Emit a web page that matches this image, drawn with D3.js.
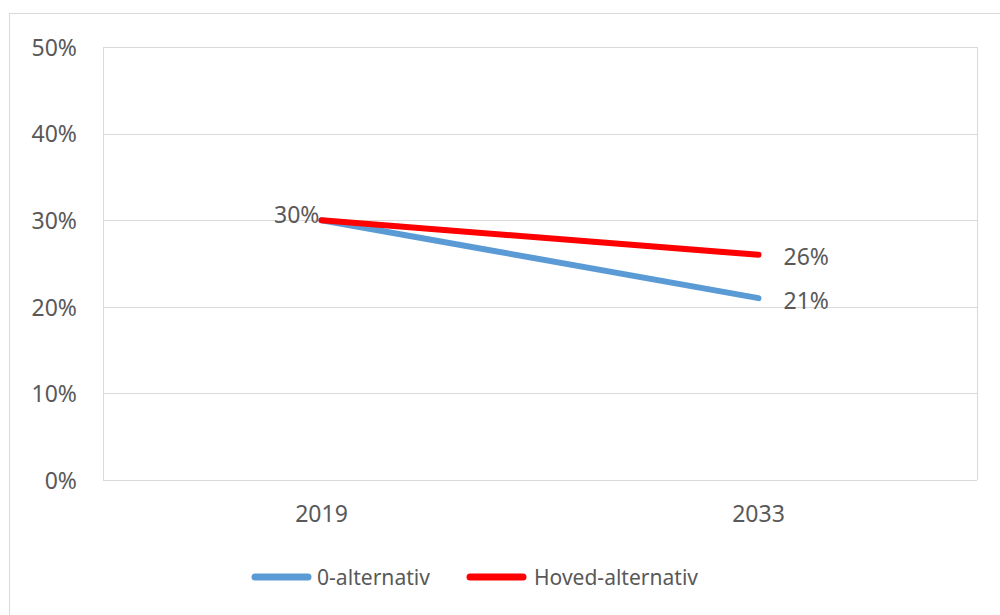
<!DOCTYPE html>
<html><head><meta charset="utf-8">
<script src="https://cdn.jsdelivr.net/npm/d3@7"></script>
<style>body{margin:0;background:#fff}svg{display:block}text{font-family:"Noto Sans","Open Sans",sans-serif;fill:#595959}</style>
</head><body>
<script>
const categories = ["2019", "2033"];
const seriesNames = ["0-alternativ", "Hoved-alternativ"];
const zeroAlt = [0.30, 0.21];
const hovedAlt = [0.30, 0.26];
const yTicks = [0, 0.1, 0.2, 0.3, 0.4, 0.5];
const colors = ["#5B9BD5", "#FF0000"];

(function () {
const W = 1000, H = 615;
const FS = "23px";
const svg = d3.select("body").append("svg").attr("width", W).attr("height", H);
svg.append("rect").attr("x", 9.5).attr("y", 13.5).attr("width", 1000).attr("height", 700)
  .attr("fill", "none").attr("stroke", "#d9d9d9");

const pl = 103, pr = 977, pt = 47, pb = 480;
const x = d3.scaleBand().domain(categories).range([pl, pr]);
const y = d3.scaleLinear().domain([0, 0.5]).range([pb, pt]);
const cx = c => x(c) + x.bandwidth() / 2;

const grid = svg.append("g");
grid.selectAll("line").data(yTicks).join("line")
  .attr("x1", pl).attr("x2", pr)
  .attr("y1", d => Math.round(y(d)) + 0.5).attr("y2", d => Math.round(y(d)) + 0.5)
  .attr("stroke", "#d9d9d9").attr("stroke-width", 1);
svg.append("line").attr("x1", pl + 0.5).attr("x2", pl + 0.5).attr("y1", pt).attr("y2", pb)
  .attr("stroke", "#d9d9d9");
svg.append("line").attr("x1", pr + 0.5).attr("x2", pr + 0.5).attr("y1", pt).attr("y2", pb)
  .attr("stroke", "#d9d9d9");

const yAxis = svg.append("g").attr("transform", `translate(${pl},0)`)
  .call(d3.axisLeft(y).tickValues(yTicks).tickFormat(d3.format(".0%")).tickSize(0).tickPadding(26));
yAxis.select(".domain").remove();
yAxis.selectAll("text").style("font-size", FS).attr("fill", "#595959").attr("dy", "0.36em");

const xAxis = svg.append("g").attr("transform", `translate(0,${pb})`)
  .call(d3.axisBottom(x).tickSize(0).tickPadding(26));
xAxis.select(".domain").remove();
xAxis.selectAll("text").style("font-size", FS).attr("fill", "#595959");

const line = d3.line().x((d, i) => cx(categories[i])).y(d => y(d));
const series = [zeroAlt, hovedAlt];
series.forEach((s, i) => {
  svg.append("path").attr("d", line(s)).attr("fill", "none")
    .attr("stroke", colors[i]).attr("stroke-width", 6).attr("stroke-linecap", "round");
});

const fmt = d3.format(".0%");
svg.append("text").attr("x", cx(categories[0]) - 2).attr("y", y(hovedAlt[0]) + 3)
  .attr("text-anchor", "end").style("font-size", FS).text(fmt(hovedAlt[0]));
svg.append("text").attr("x", cx(categories[1]) + 25).attr("y", y(hovedAlt[1]) + 10)
  .style("font-size", FS).text(fmt(hovedAlt[1]));
svg.append("text").attr("x", cx(categories[1]) + 25).attr("y", y(zeroAlt[1]) + 11)
  .style("font-size", FS).text(fmt(zeroAlt[1]));

const legend = [{x: 255, tx: 317, tl: 113}, {x: 470, tx: 534, tl: 164}];
seriesNames.forEach((n, i) => {
  svg.append("line").attr("x1", legend[i].x).attr("x2", legend[i].x + 53).attr("y1", 577).attr("y2", 577)
    .attr("stroke", colors[i]).attr("stroke-width", 7).attr("stroke-linecap", "round");
  svg.append("text").attr("x", legend[i].tx).attr("y", 585).style("font-size", "22px")
    .attr("textLength", legend[i].tl).attr("lengthAdjust", "spacingAndGlyphs").text(n);
});
})();
</script>
</body></html>
